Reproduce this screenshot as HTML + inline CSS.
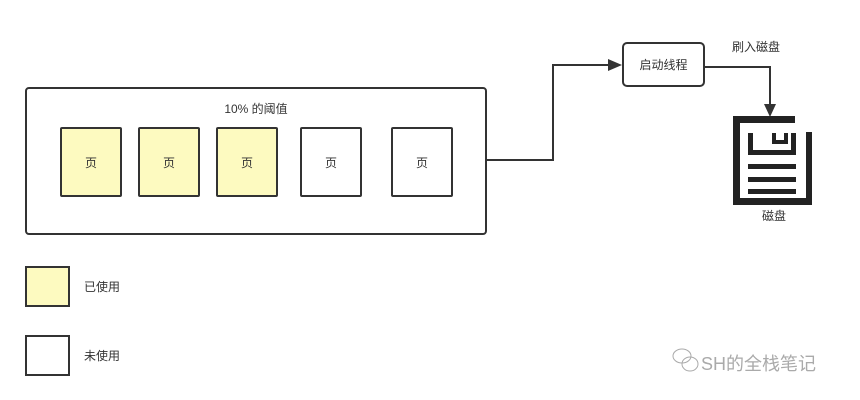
<!DOCTYPE html>
<html><head><meta charset="utf-8"><style>
body{margin:0;background:#fff;width:860px;height:400px;overflow:hidden;font-family:"Liberation Sans","Noto Sans CJK SC",sans-serif;font-size:12px;color:#333}
.a{position:absolute;box-sizing:border-box}
.p{position:absolute;box-sizing:border-box;border:2px solid #333;border-radius:2px;display:flex;align-items:center;justify-content:center;top:127px;width:62px;height:70px}
.y{background:#fdfac0}
</style></head><body>
<div class="a" style="left:25px;top:87px;width:462px;height:148px;border:2px solid #333;border-radius:4px"></div>
<div class="a" style="left:25px;top:100px;width:462px;text-align:center">10% 的阈值</div>
<div class="p y" style="left:60px">页</div>
<div class="p y" style="left:138px">页</div>
<div class="p y" style="left:216px">页</div>
<div class="p" style="left:300px">页</div>
<div class="p" style="left:391px">页</div>
<div class="a" style="left:622px;top:42px;width:83px;height:45px;border:2px solid #333;border-radius:5px;display:flex;align-items:center;justify-content:center">启动线程</div>
<div class="a" style="left:732px;top:38px">刷入磁盘</div>
<div class="a" style="left:762px;top:207px">磁盘</div>
<div class="a y" style="left:25px;top:266px;width:45px;height:41px;border:2px solid #333"></div>
<div class="a" style="left:84px;top:278px">已使用</div>
<div class="a" style="left:25px;top:335px;width:45px;height:41px;border:2px solid #333"></div>
<div class="a" style="left:84px;top:347px">未使用</div>
<div class="a" style="left:701px;top:350px;font-size:18px;color:#aaa">SH的全栈笔记</div>
<svg class="a" style="left:0;top:0" width="860" height="400">
<polyline points="487,160 553,160 553,65 610,65" fill="none" stroke="#333" stroke-width="2"/>
<polygon points="622,65 608,59 608,71" fill="#333"/>
<polyline points="705,67 770,67 770,106" fill="none" stroke="#333" stroke-width="2"/>
<polygon points="770,117 764,104 776,104" fill="#333"/>
<g fill="#222">
<rect x="733" y="116" width="62" height="7"/>
<rect x="733" y="116" width="7" height="89"/>
<rect x="733" y="198" width="79" height="7"/>
<rect x="806" y="132" width="6" height="73"/>
<rect x="748" y="133" width="5" height="22"/>
<rect x="791" y="133" width="5" height="22"/>
<rect x="748" y="150" width="48" height="5"/>
<rect x="772" y="133" width="4" height="10"/>
<rect x="784" y="133" width="4" height="10"/>
<rect x="772" y="140" width="16" height="4"/>
<rect x="748" y="164" width="48" height="5"/>
<rect x="748" y="177" width="48" height="5"/>
<rect x="748" y="189" width="48" height="5"/>
</g>
<g fill="none" stroke="#aaa" stroke-width="1">
<ellipse cx="682" cy="356" rx="9" ry="7"/>
<ellipse cx="690" cy="364" rx="8" ry="7"/>
</g>
</svg>
</body></html>
